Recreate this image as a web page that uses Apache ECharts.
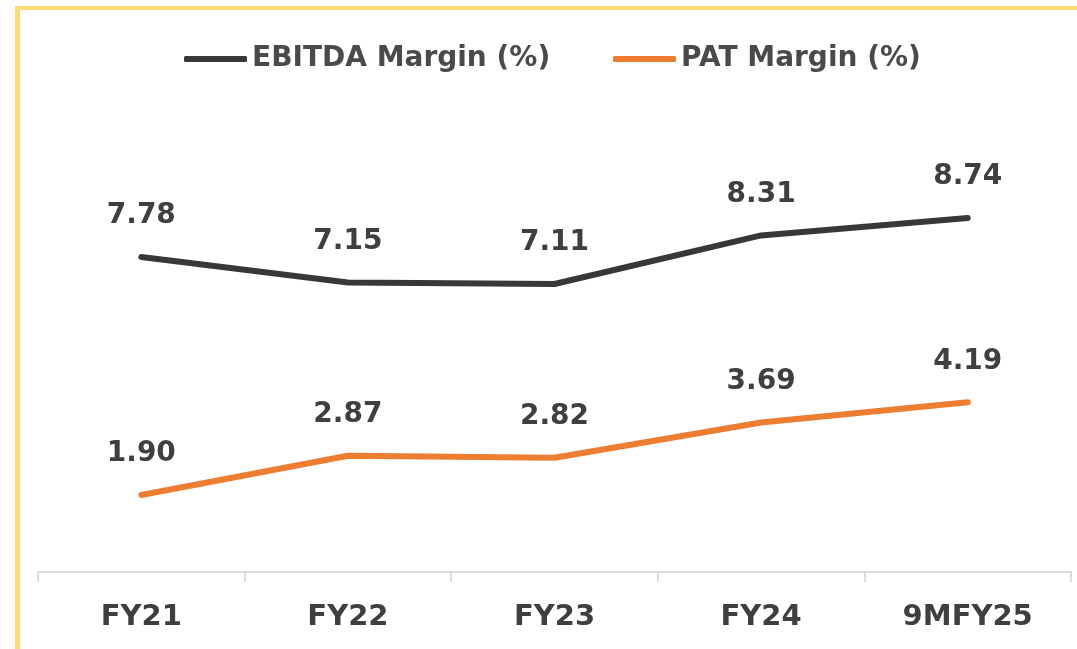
<!DOCTYPE html>
<html>
<head>
<meta charset="utf-8">
<script src="https://cdn.jsdelivr.net/npm/echarts@6/dist/echarts.min.js"></script>
<style>
  html, body { margin: 0; padding: 0; background: #ffffff; }
  #wrap { position: relative; width: 1077px; height: 649px; overflow: hidden; background: #ffffff; }
  #frame { position: absolute; left: 15px; top: 6px; width: 1200px; height: 800px;
           border-top: 4px solid #FDDA72; border-left: 5px solid #FDDA72; box-sizing: border-box; }
  #chart { position: absolute; left: 0; top: 0; width: 1077px; height: 649px; }
</style>
</head>
<body>
<div id="wrap">
  <div id="frame"></div>
  <div id="chart"></div>
</div>
<script>
const categories = ['FY21', 'FY22', 'FY23', 'FY24', '9MFY25'];
const ebitdaMargin = [7.78, 7.15, 7.11, 8.31, 8.74];
const patMargin = [1.90, 2.87, 2.82, 3.69, 4.19];
const seriesNames = ['EBITDA Margin (%)', 'PAT Margin (%)'];

const FONT = 'DejaVu Sans';
const chart = echarts.init(document.getElementById('chart'), null, { renderer: 'canvas' });

const labelStyle = {
  show: true,
  position: 'top',
  distance: 26,
  fontFamily: FONT,
  fontWeight: 'bold',
  fontSize: 28,
  color: '#3f3f3f',
  formatter: p => p.value.toFixed(2)
};

chart.setOption({
  backgroundColor: 'transparent',
  animation: false,
  legend: [
    {
      data: [seriesNames[0]],
      left: 179, top: 40,
      icon: 'roundRect',
      itemWidth: 63, itemHeight: 6,
      itemGap: 0,
      textStyle: { fontFamily: FONT, fontWeight: 'bold', fontSize: 28, color: '#4a4a4a' }
    },
    {
      data: [seriesNames[1]],
      left: 608, top: 40,
      icon: 'roundRect',
      itemWidth: 63, itemHeight: 6,
      itemGap: 0,
      textStyle: { fontFamily: FONT, fontWeight: 'bold', fontSize: 28, color: '#4a4a4a' }
    }
  ],
  grid: { left: 38, right: 6, top: 167, bottom: 77, containLabel: false },
  xAxis: {
    type: 'category',
    data: categories,
    boundaryGap: true,
    axisLine: { show: true, lineStyle: { color: '#d0d0d0', width: 1.5 } },
    axisTick: { show: true, length: 10, alignWithLabel: false, lineStyle: { color: '#d0d0d0', width: 1.5 } },
    axisLabel: { margin: 31, fontFamily: FONT, fontWeight: 'bold', fontSize: 29, color: '#3f3f3f' },
    splitLine: { show: false }
  },
  yAxis: {
    type: 'value',
    min: 0, max: 10, interval: 2,
    show: false,
    splitLine: { show: false }
  },
  series: [
    {
      name: seriesNames[0],
      type: 'line',
      data: ebitdaMargin,
      symbol: 'circle', symbolSize: 2,
      color: '#383838',
      lineStyle: { color: '#383838', width: 6, cap: 'round', join: 'round' },
      itemStyle: { color: '#383838' },
      label: labelStyle
    },
    {
      name: seriesNames[1],
      type: 'line',
      data: patMargin,
      symbol: 'circle', symbolSize: 2,
      color: '#ED7D31',
      lineStyle: { color: '#ED7D31', width: 6, cap: 'round', join: 'round' },
      itemStyle: { color: '#ED7D31' },
      label: labelStyle
    }
  ]
});
</script>
</body>
</html>
